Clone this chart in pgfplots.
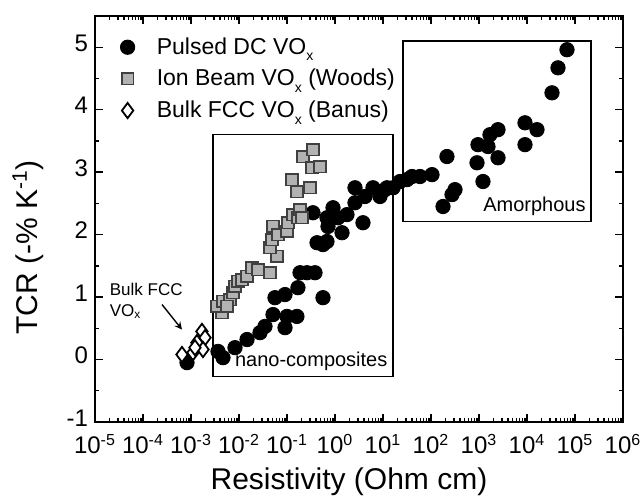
\documentclass[border=0pt]{standalone}
\usepackage{fontspec}
\setmainfont{Liberation Sans}
\usepackage{pgfplots}
\pgfplotsset{compat=1.18}
\newcommand{\subx}{\raisebox{-0.55ex}{\fontsize{7}{7}\selectfont x}}
\begin{document}
\begin{tikzpicture}
\begin{axis}[
  scale only axis, width=264pt, height=203pt,
  xmode=log, log basis x=10, xmin=1e-5, xmax=1e6,
  ymin=-1, ymax=5.5,
  xtick={1e-5,1e-4,1e-3,1e-2,1e-1,1,10,100,1000,1e4,1e5,1e6},
  xticklabels={10\textsuperscript{-5},10\textsuperscript{-4},10\textsuperscript{-3},10\textsuperscript{-2},10\textsuperscript{-1},10\textsuperscript{0},10\textsuperscript{1},10\textsuperscript{2},10\textsuperscript{3},10\textsuperscript{4},10\textsuperscript{5},10\textsuperscript{6}},
  minor xtick={2e-5,3e-5,4e-5,5e-5,6e-5,7e-5,8e-5,9e-5,
               2e-4,3e-4,4e-4,5e-4,6e-4,7e-4,8e-4,9e-4,
               2e-3,3e-3,4e-3,5e-3,6e-3,7e-3,8e-3,9e-3,
               2e-2,3e-2,4e-2,5e-2,6e-2,7e-2,8e-2,9e-2,
               0.2,0.3,0.4,0.5,0.6,0.7,0.8,0.9,
               2,3,4,5,6,7,8,9,
               20,30,40,50,60,70,80,90,
               200,300,400,500,600,700,800,900,
               2e3,3e3,4e3,5e3,6e3,7e3,8e3,9e3,
               2e4,3e4,4e4,5e4,6e4,7e4,8e4,9e4,
               2e5,3e5,4e5,5e5,6e5,7e5,8e5,9e5},
  ytick={-1,0,1,2,3,4,5}, minor y tick num=1,
  /pgf/number format/assume math mode=true,
  tick align=inside, tick pos=both,
  major tick length=4pt, minor tick length=2pt,
  axis line style={line width=0.9pt},
  every tick/.style={line width=0.7pt, black},
  tick label style={font=\fontsize{12}{14}\selectfont},
  xticklabel style={yshift=-2.5pt},
  yticklabel style={yshift=2pt},
  xlabel={Resistivity (Ohm cm)},
  ylabel={TCR (-\% K\textsuperscript{-1})},
  label style={font=\fontsize{15}{18}\selectfont},
  xlabel style={at={(axis description cs:0.481,-0.146)}, anchor=center},
  ylabel style={at={(axis description cs:-0.127,0.43)}, anchor=center},
  legend style={draw=none, fill=none, at={(0.036,0.968)}, anchor=north west,
    font=\fontsize{11.5}{14}\selectfont, row sep=2pt,
    /tikz/every odd column/.append style={column sep=9pt}},
  legend cell align=left,
  clip=false,
]
\draw[line width=0.8pt] (axis cs:2.9e-3,-0.27) rectangle (axis cs:16,3.6);
\draw[line width=0.8pt] (axis cs:26,2.21) rectangle (axis cs:2.15e5,5.1);

\addplot[only marks, mark=*, mark size=3.6pt, black, mark options={fill=black}] coordinates {
(8.26e-4,-0.05) (3.65e-3,0.13) (4.64e-3,0.03) (8.25e-3,0.19) (1.47e-2,0.32)
(2.74e-2,0.43) (3.48e-2,0.53) (5.11e-2,0.72) (9.09e-2,0.51) (0.1,0.69)
(0.161,0.69) (5.62e-2,0.99) (9.09e-2,1.04) (0.169,1.15) (0.187,1.39)
(0.261,1.39) (0.383,1.39) (0.562,0.99) (0.422,1.87) (0.562,1.84)
(0.681,1.89) (0.348,2.35) (0.715,2.13) (0.681,2.27) (0.909,2.43)
(1.40,2.03) (1.155,2.27) (1.78,2.32) (2.61,2.51) (3.83,2.19)
(2.61,2.75) (4.22,2.61) (6.19,2.75) (8.66,2.61) (12.1,2.75)
(16.2,2.75) (11.0,2.72) (22.6,2.85) (31.6,2.88) (40.2,2.93) (59.0,2.93)
(105,2.96) (215,3.25) (178,2.45) (274,2.64) (316,2.72)
(909,3.15) (953,3.44) (1211,2.85) (1540,3.41) (1694,3.60)
(2489,3.68) (2489,3.23) (9085,3.79) (16150,3.68) (9085,3.44)
(33190,4.27) (44260,4.67) (68130,4.96)
};
\addlegendentry{Pulsed DC VO\subx}

\addplot[only marks, mark=square*, mark size=2.9pt, draw=black!75, fill=black!30, line width=0.8pt] coordinates {
(4.42e-3,0.75) (3.48e-3,0.85) (4.64e-3,0.93) (6.49e-3,0.96) (5.62e-3,0.85)
(7.50e-3,1.07) (8.25e-3,1.17) (9.53e-3,1.25) (1.155e-2,1.28) (1.47e-2,1.33)
(1.87e-2,1.47) (2.49e-2,1.44) (4.42e-2,1.39) (6.19e-2,1.65) (4.42e-2,1.79)
(4.87e-2,1.92) (5.11e-2,2.13) (6.49e-2,2.00) (0.1,2.05) (0.105,2.19)
(0.133,2.32) (0.169,2.27) (0.187,2.40) (0.205,2.27) (0.127,2.88)
(0.161,2.69) (0.301,2.75) (0.215,3.25) (0.348,3.36) (0.332,3.07) (0.487,3.09)
};
\addlegendentry{Ion Beam VO\subx{} (Woods)}

\addplot[only marks, mark=diamond*, mark size=3.8pt, draw=black, fill=white, line width=0.9pt] coordinates {
(6.49e-4,0.08) (1.10e-3,0.11) (1.33e-3,0.27) (1.69e-3,0.45) (1.96e-3,0.35)
(1.78e-3,0.16) (1.21e-3,0.19)
};
\addlegendentry{Bulk FCC VO\subx{} (Banus)}

\node[anchor=south east, font=\fontsize{10}{12}\selectfont, inner sep=2.5pt] at (axis cs:16,-0.27) {nano-composites};
\node[anchor=south east, font=\fontsize{10}{12}\selectfont, inner sep=2.5pt] at (axis cs:2.15e5,2.21) {Amorphous};
\node[anchor=north west, align=left, font=\fontsize{8.5}{10.5}\selectfont, inner sep=0pt] at (axis cs:2.0e-5,1.23) {Bulk FCC\\VO\textsubscript{x}};
\draw[-stealth, line width=0.7pt] (axis cs:2.49e-4,0.88) -- (axis cs:6.49e-4,0.48);
\end{axis}
\pgfresetboundingbox
\useasboundingbox (current axis.south west) ++(-47.5pt,-39.5pt) rectangle ++(321.5pt,250.5pt);
\end{tikzpicture}
\end{document}
